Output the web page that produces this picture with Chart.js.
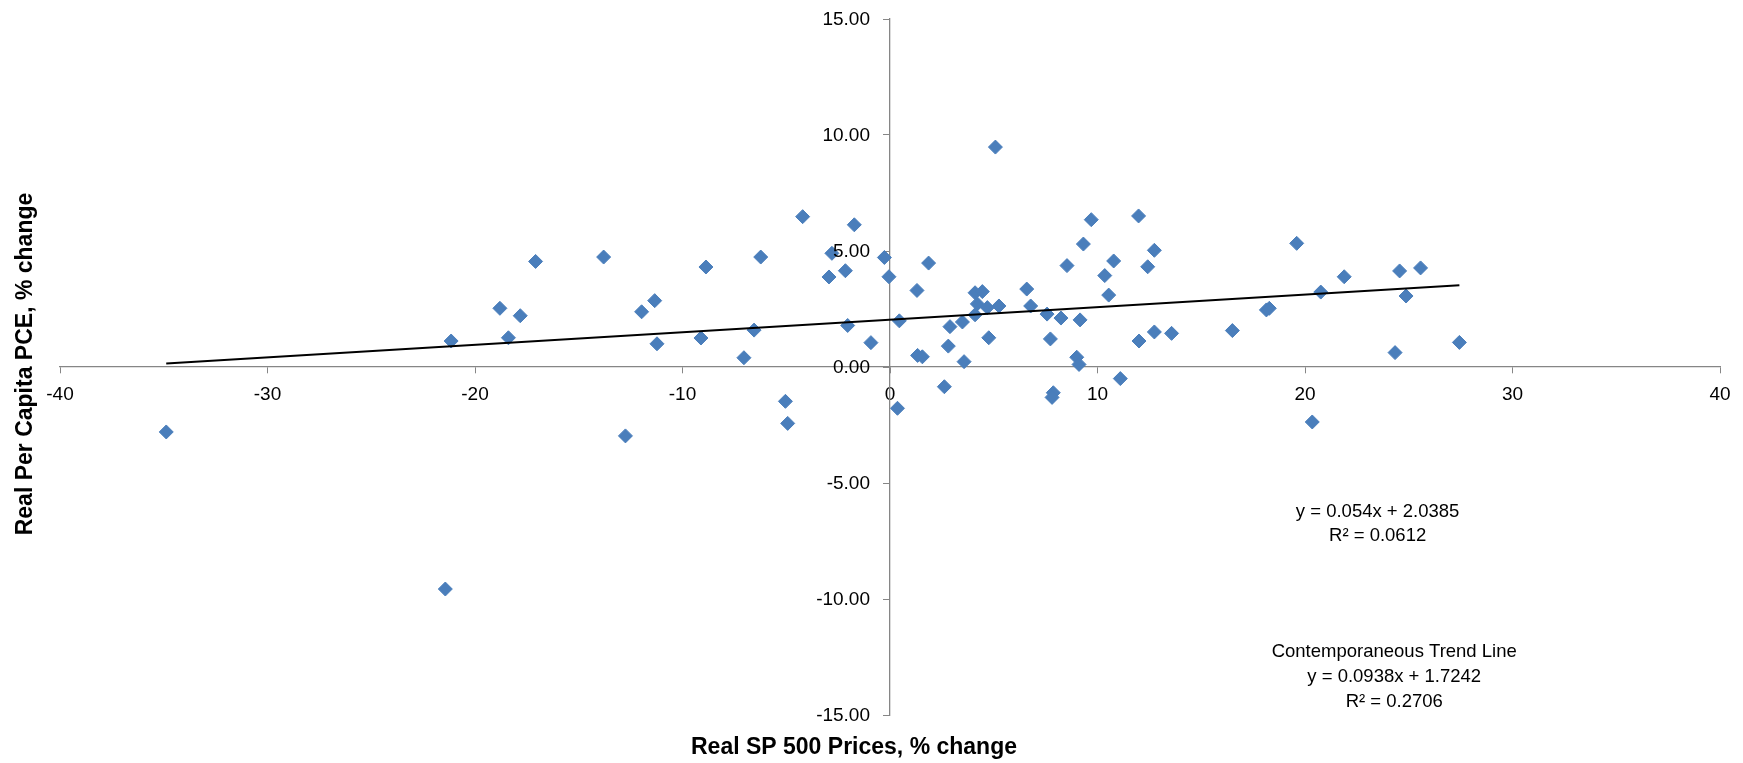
<!DOCTYPE html>
<html>
<head>
<meta charset="utf-8">
<title>Real SP 500 vs Real Per Capita PCE</title>
<script src="https://cdn.jsdelivr.net/npm/chart.js@4.4.1/dist/chart.umd.min.js"></script>
<style>
  html, body { margin: 0; padding: 0; background: #fff; }
  canvas { display: block; }
</style>
</head>
<body>
<canvas id="ch1" width="1743" height="763"></canvas>
<script>
//data
var spChange = [
  -34.88, -21.15, -21.43, -18.80, -18.39, -17.82, -17.08, -13.80, -12.75, -11.97,
  -11.34, -11.23, -9.11, -8.87, -7.04, -6.55, -6.23, -5.04, -4.93, -4.21,
  -2.94, -2.80, -2.15, -2.04, -1.72, -0.92, -0.27, -0.05, 0.45, 0.36,
  1.30, 1.86, 1.33, 1.56, 2.62, 2.81, 2.89, 3.49, 3.57, 4.10,
  4.45, 4.21, 4.10, 4.69, 5.08, 4.76, 5.25, 6.59, 6.78, 7.57,
  7.73, 7.87, 7.81, 8.24, 8.53, 9.00, 9.11, 9.16, 9.32, 9.70,
  10.35, 10.54, 10.78, 11.10, 11.98, 12.00, 12.42, 12.74, 12.74, 13.57,
  16.50, 18.14, 18.28, 19.60, 20.35, 20.76, 21.89, 24.56, 25.57, 24.87,
  24.34, 27.44
];
var pceChange = [
  -2.80, 1.12, -9.57, 2.53, 1.26, 2.21, 4.55, 4.74, -2.97, 2.38,
  2.86, 1.00, 1.25, 4.31, 0.40, 1.59, 4.74, -1.48, -2.43, 6.48,
  3.88, 4.90, 4.15, 1.79, 6.13, 1.05, 4.72, 3.89, 1.99, -1.78,
  3.30, 4.48, 0.50, 0.44, -0.85, 0.90, 1.74, 1.94, 0.23, 3.20,
  3.25, 2.72, 2.25, 2.56, 9.48, 1.26, 2.63, 3.36, 2.63, 2.28,
  1.21, -1.11, -1.31, 2.11, 4.37, 0.42, 0.11, 2.03, 5.30, 6.35,
  3.94, 3.10, 4.57, -0.50, 6.51, 1.12, 4.32, 5.03, 1.51, 1.45,
  1.57, 2.46, 2.53, 5.33, -2.37, 3.23, 3.89, 4.14, 4.27, 3.06,
  0.62, 1.06
];

// trend line shown in the chart: y = slope*x + intercept
var trendCoef = [0.054, 2.0385];

var xTicks = [-40, -30, -20, -10, 0, 10, 20, 30, 40];
var yTicks = [-15, -10, -5, 0, 5, 10, 15];

var xTitle = 'Real SP 500 Prices, % change';
var yTitle = 'Real Per Capita PCE, % change';

var noteLines1 = ['y = 0.054x + 2.0385', 'R\u00b2 = 0.0612'];
var noteLines2 = ['Contemporaneous Trend Line', 'y = 0.0938x + 1.7242', 'R\u00b2 = 0.2706'];

var FONT = '"Liberation Sans", Arial, sans-serif';

//build points
var points = [];
for (var i = 0; i < spChange.length; i++) {
  points.push({x: spChange[i], y: pceChange[i]});
}
var minX = Math.min.apply(null, spChange);
var maxX = Math.max.apply(null, spChange);
var trendPts = [
  {x: minX, y: trendCoef[0] * minX + trendCoef[1]},
  {x: maxX, y: trendCoef[0] * maxX + trendCoef[1]}
];

// y tick labels (left of the crossing axis), axis titles + equation text
var textPlugin = {
  id: 'texts',
  afterDraw: function(chart) {
    var ctx = chart.ctx;
    var xs = chart.scales.x, ys = chart.scales.y;
    ctx.save();
    ctx.fillStyle = '#000';
    ctx.textBaseline = 'middle';

    // y labels
    ctx.font = '19px ' + FONT;
    ctx.textAlign = 'right';
    var axisX = xs.getPixelForValue(0);
    yTicks.forEach(function(v) {
      ctx.fillText(v.toFixed(2), axisX - 20, ys.getPixelForValue(v) + 1);
    });

    ctx.textAlign = 'center';
    ctx.font = 'bold 23px ' + FONT;
    ctx.fillText(xTitle, 854, 748);
    ctx.save();
    ctx.translate(26, 364);
    ctx.rotate(-Math.PI / 2);
    ctx.fillText(yTitle, 0, 0);
    ctx.restore();

    ctx.font = '18.5px ' + FONT;
    var cx = xs.getPixelForValue(23.5), cy = ys.getPixelForValue(-6.24);
    noteLines1.forEach(function(t, k) { ctx.fillText(t, cx, cy + k * 24.5); });
    cx = xs.getPixelForValue(24.3); cy = ys.getPixelForValue(-12.27);
    noteLines2.forEach(function(t, k) { ctx.fillText(t, cx, cy + k * 25); });
    ctx.restore();
  }
};

var scatter = document.getElementById('ch1').getContext('2d');
var myChart = new Chart(scatter, {
  type: 'scatter',
  data: {
    datasets: [{
      type: 'line',
      label: 'trend',
      data: trendPts,
      borderColor: '#000',
      borderWidth: 2,
      pointRadius: 0,
      fill: false,
      order: 0
    }, {
      label: 'PCE vs SP 500',
      data: points,
      pointStyle: 'rectRot',
      pointRadius: 7,
      pointBackgroundColor: '#4A7EBB',
      pointBorderColor: '#4A7EBB',
      pointBorderWidth: 1,
      order: 1
    }]
  },
  options: {
    responsive: false,
    animation: false,
    layout: { padding: {left: 60, right: 23, top: 19, bottom: 48} },
    plugins: {
      legend: { display: false },
      tooltip: { enabled: false }
    },
    scales: {
      x: {
        type: 'linear',
        position: {y: 0},
        min: -40,
        max: 40,
        afterBuildTicks: function(axis) {
          axis.ticks = xTicks.map(function(v) { return {value: v}; });
        },
        grid: { drawOnChartArea: false, drawTicks: true, tickLength: 6, color: '#868686' },
        border: { color: '#868686', width: 1.3 },
        ticks: {
          color: '#000',
          padding: 10,
          maxRotation: 0,
          font: { family: FONT, size: 19 }
        }
      },
      y: {
        type: 'linear',
        position: {x: 0},
        min: -15,
        max: 15,
        afterBuildTicks: function(axis) {
          axis.ticks = yTicks.map(function(v) { return {value: v}; });
        },
        grid: { drawOnChartArea: false, drawTicks: true, tickLength: 6, color: '#868686' },
        border: { color: '#868686', width: 1.3 },
        ticks: { display: false }
      }
    }
  },
  plugins: [textPlugin]
});
</script>
</body>
</html>
